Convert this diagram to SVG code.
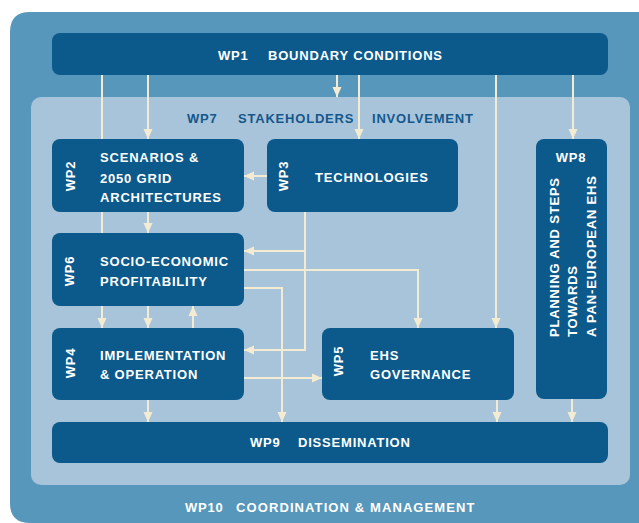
<svg xmlns="http://www.w3.org/2000/svg" width="639" height="523" viewBox="0 0 639 523">
<defs>
<style>
.box{fill:#0c5a8b}
.t{font-family:"Liberation Sans",Arial,sans-serif;font-weight:bold;font-size:13px;fill:#ffffff;letter-spacing:0.8px}
.t7{fill:#14588c}
.c{fill:none;stroke:#f4ecd2;stroke-width:2}
</style>
<marker id="ah" markerUnits="userSpaceOnUse" markerWidth="10" markerHeight="10" refX="10" refY="5" orient="auto">
<path d="M0,0.5 L10,5 L0,9.5 z" fill="#f4ecd2"/>
</marker>
</defs>
<rect width="639" height="523" fill="#ffffff"/>
<g id="wp10">
<path d="M30,12 H639 V523 H30 Q10,523 10,503 V32 Q10,12 30,12 z" fill="#5797bb"/>
<text class="t" x="185" y="512">WP10</text>
<text class="t" x="236" y="512" style="letter-spacing:1.1px">COORDINATION &amp; MANAGEMENT</text>
</g>
<g id="wp7">
<rect x="31" y="97" width="599" height="388" rx="10" fill="#a8c4da"/>
<text class="t t7" x="187" y="123">WP7</text>
<text class="t t7" x="238" y="123">STAKEHOLDERS</text>
<text class="t t7" x="372" y="123">INVOLVEMENT</text>
</g>
<g id="connectors">
<path class="c" d="M102,75 V328" marker-end="url(#ah)"/>
<path class="c" d="M148,75 V139" marker-end="url(#ah)"/>
<path class="c" d="M148,212 V233" marker-end="url(#ah)"/>
<path class="c" d="M148,306 V328" marker-end="url(#ah)"/>
<path class="c" d="M148,400 V422" marker-end="url(#ah)"/>
<path class="c" d="M193,328 V306" marker-end="url(#ah)"/>
<path class="c" d="M337,75 V97" marker-end="url(#ah)"/>
<path class="c" d="M359,75 V139" marker-end="url(#ah)"/>
<path class="c" d="M496,75 V328" marker-end="url(#ah)"/>
<path class="c" d="M573,75 V139" marker-end="url(#ah)"/>
<path class="c" d="M267,176 H244" marker-end="url(#ah)"/>
<path class="c" d="M305,212 V350 H244" marker-end="url(#ah)"/>
<path class="c" d="M305,251 H244" marker-end="url(#ah)"/>
<path class="c" d="M244,270 H418 V328" marker-end="url(#ah)"/>
<path class="c" d="M244,288 H282 V422" marker-end="url(#ah)"/>
<path class="c" d="M244,378 H322" marker-end="url(#ah)"/>
<path class="c" d="M497,400 V422" marker-end="url(#ah)"/>
<path class="c" d="M572,399 V422" marker-end="url(#ah)"/>
</g>
<g id="wp1">
<rect class="box" x="52" y="33" width="556" height="42" rx="8"/>
<text class="t" x="218" y="60">WP1</text>
<text class="t" x="268" y="60">BOUNDARY CONDITIONS</text>
</g>
<g id="wp2">
<rect class="box" x="52" y="139" width="192" height="73" rx="8"/>
<text class="t" transform="translate(75,176) rotate(-90)" text-anchor="middle">WP2</text>
<text class="t" x="100" y="162">SCENARIOS &amp;</text>
<text class="t" x="100" y="183">2050 GRID</text>
<text class="t" x="100" y="202">ARCHITECTURES</text>
</g>
<g id="wp3">
<rect class="box" x="267" y="139" width="191" height="73" rx="8"/>
<text class="t" transform="translate(288,176) rotate(-90)" text-anchor="middle">WP3</text>
<text class="t" x="315" y="182">TECHNOLOGIES</text>
</g>
<g id="wp8">
<rect class="box" x="536" y="139" width="71" height="260" rx="8"/>
<text class="t" x="571" y="162" text-anchor="middle">WP8</text>
<text class="t" transform="translate(559,337) rotate(-90)">PLANNING AND STEPS</text>
<text class="t" transform="translate(577,337) rotate(-90)">TOWARDS</text>
<text class="t" transform="translate(596,337) rotate(-90)">A PAN-EUROPEAN EHS</text>
</g>
<g id="wp6">
<rect class="box" x="52" y="233" width="192" height="73" rx="8"/>
<text class="t" transform="translate(74,271) rotate(-90)" text-anchor="middle">WP6</text>
<text class="t" x="100" y="266">SOCIO-ECONOMIC</text>
<text class="t" x="100" y="286">PROFITABILITY</text>
</g>
<g id="wp4">
<rect class="box" x="52" y="328" width="192" height="72" rx="8"/>
<text class="t" transform="translate(75,363) rotate(-90)" text-anchor="middle">WP4</text>
<text class="t" x="100" y="360">IMPLEMENTATION</text>
<text class="t" x="100" y="379">&amp; OPERATION</text>
</g>
<g id="wp5">
<rect class="box" x="322" y="328" width="192" height="72" rx="8"/>
<text class="t" transform="translate(343,361) rotate(-90)" text-anchor="middle">WP5</text>
<text class="t" x="370" y="360">EHS</text>
<text class="t" x="370" y="379">GOVERNANCE</text>
</g>
<g id="wp9">
<rect class="box" x="52" y="422" width="556" height="41" rx="8"/>
<text class="t" x="250" y="447">WP9</text>
<text class="t" x="298" y="447">DISSEMINATION</text>
</g>
</svg>
